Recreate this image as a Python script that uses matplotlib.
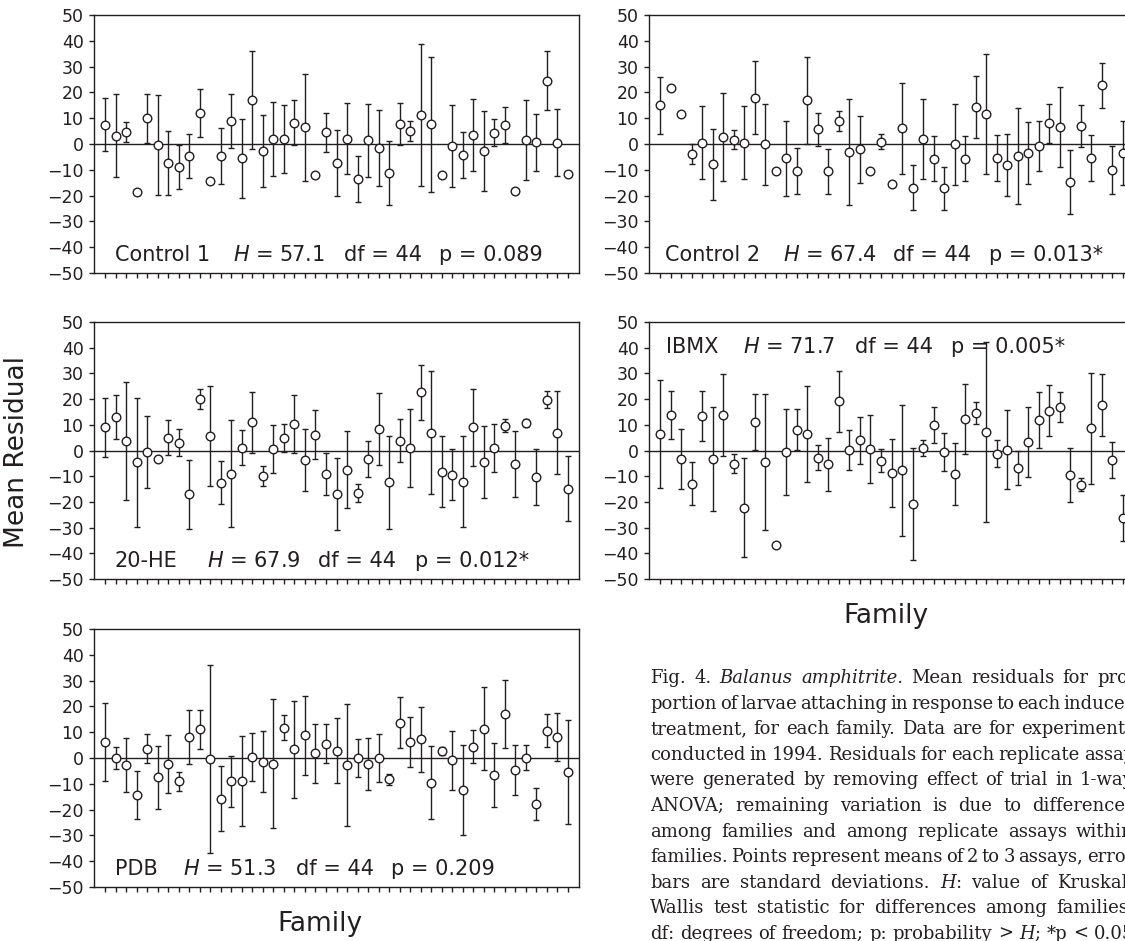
import matplotlib
matplotlib.use("Agg")
import matplotlib.pyplot as plt
from matplotlib.transforms import blended_transform_factory

# ---------------- data ----------------
families = list(range(1, 46))

control1_mean = [7.5, 3.2, 4.7, -18.6, 9.9, -0.5, -7.4, -8.9, -4.6, 12.1, -14.4, -4.6, 9.0, -5.6, 17.1,
                 -2.7, 1.9, 1.9, 8.3, 6.4, -12.1, 4.5, -7.3, 2.1, -13.4, 1.5, -1.5, -11.3, 7.8, 5.0,
                 11.2, 7.6, -12.1, -0.7, -4.2, 3.6, -2.8, 4.3, 7.4, -18.4, 1.4, 0.6, 24.6, 0.5, -11.8]
control1_sd = [10.2, 16.0, 4.0, 0, 9.5, 19.3, 12.3, 8.5, 8.6, 9.3, 0, 10.9, 10.4, 15.4, 19.1,
               14.0, 14.3, 13.3, 8.7, 20.9, 0, 7.7, 12.9, 13.9, 8.9, 14.1, 14.6, 12.4, 8.2, 4.0,
               27.6, 26.1, 0, 16.0, 8.9, 14.0, 15.6, 5.2, 6.9, 0, 15.5, 11.0, 11.3, 13.0, 0]

control2_mean = [15.0, 21.6, 11.6, -3.8, 0.5, -7.9, 2.7, 1.7, 0.5, 17.9, -0.1, -10.6, -5.6, -10.5, 16.9,
                 5.7, -10.5, 8.8, -3.1, -2.1, -10.5, 0.8, -15.6, 6.1, -16.9, 1.8, -5.7, -17.1, -0.1, -5.7,
                 14.4, 11.5, -5.4, -8.2, -4.7, -3.5, -0.6, 8.0, 6.6, -14.7, 6.9, -5.4, 22.8, -10.1, -3.4]
control2_sd = [11.0, 0, 0, 3.8, 14.1, 13.8, 17.0, 3.6, 14.1, 14.1, 15.6, 0, 14.5, 9.0, 16.8,
               6.4, 8.7, 3.8, 20.7, 12.9, 0, 2.9, 0, 17.6, 8.6, 15.5, 8.7, 8.3, 15.6, 8.7,
               11.9, 23.3, 8.9, 12.1, 18.7, 12.0, 9.7, 7.5, 15.6, 12.4, 8.2, 9.0, 8.7, 9.3, 12.4]

he20_mean = [9.0, 13.1, 3.7, -4.6, -0.5, -3.2, 5.0, 3.0, -17.1, 20.0, 5.6, -12.5, -9.1, 1.1, 10.9,
             -9.9, 0.5, 5.0, 10.3, -3.7, 6.1, -9.0, -16.9, -7.4, -16.4, -3.3, 8.2, -12.4, 3.8, 1.0,
             22.6, 6.9, -8.2, -9.4, -12.2, 9.0, -4.5, 1.0, 9.7, -5.2, 10.6, -10.5, 19.8, 6.9, -14.8]
he20_sd = [11.6, 8.5, 23.0, 25.2, 14.0, 1.0, 6.7, 5.2, 13.3, 4.0, 19.5, 8.5, 20.8, 6.8, 11.8,
           4.0, 9.3, 5.4, 11.2, 12.0, 9.6, 8.2, 13.9, 15.0, 3.5, 6.9, 14.0, 18.0, 8.3, 15.1,
           10.8, 23.9, 13.7, 9.9, 17.7, 15.1, 14.0, 9.4, 2.6, 12.7, 1.5, 10.9, 3.2, 16.1, 12.8]

ibmx_mean = [6.4, 13.8, -3.3, -12.9, 13.3, -3.3, 13.8, -5.2, -22.2, 11.1, -4.5, -36.8, -0.6, 8.1, 6.5,
             -2.8, -5.4, 19.1, 0.3, 3.9, 0.7, -3.9, -8.7, -7.7, -20.8, 1.0, 9.8, -0.6, -9.1, 12.4,
             14.6, 7.2, -1.2, 0.3, -6.7, 3.2, 11.8, 15.4, 16.8, -9.6, -13.3, 8.6, 17.8, -3.8, -26.3]
ibmx_sd = [21.0, 9.5, 11.8, 8.5, 9.7, 20.2, 16.1, 3.7, 19.2, 10.8, 26.5, 0, 16.6, 7.9, 18.6,
           4.9, 10.4, 11.9, 7.7, 9.0, 13.3, 4.4, 13.1, 25.4, 21.8, 3.2, 7.0, 7.4, 12.0, 13.6,
           4.3, 35.0, 5.4, 15.3, 6.6, 13.6, 10.8, 9.9, 5.8, 10.5, 2.6, 21.7, 12.0, 7.0, 9.0]

pdb_mean = [6.2, 0.0, -2.8, -14.4, 3.6, -7.4, -2.3, -9.1, 8.0, 11.1, -0.3, -15.7, -9.1, -8.9, 0.4,
            -1.4, -2.2, 11.8, 3.4, 8.8, 1.8, 5.6, 2.8, -2.8, 0.0, -2.3, 0.1, -8.3, 13.7, 6.1,
            7.3, -9.6, 2.7, -0.9, -12.3, 4.4, 11.4, -6.6, 17.0, -4.7, 0.1, -17.7, 10.5, 8.2, -5.4]
pdb_sd = [15.2, 4.3, 10.5, 9.4, 5.6, 12.2, 11.1, 3.6, 10.5, 7.5, 36.5, 12.7, 9.7, 17.5, 9.3,
          11.7, 24.9, 5.0, 18.8, 15.3, 11.4, 7.6, 12.6, 23.7, 7.5, 10.0, 9.3, 2.1, 9.8, 9.7,
          12.6, 14.1, 1.5, 11.5, 17.4, 6.5, 16.1, 12.4, 13.3, 9.7, 4.9, 6.2, 6.4, 9.4, 20.3]

treatments = ["Control 1", "Control 2", "20-HE", "IBMX", "PDB"]
h_values = ["57.1", "67.4", "67.9", "71.7", "51.3"]
df_values = ["44", "44", "44", "44", "44"]
p_values = ["0.089", "0.013*", "0.012*", "0.005*", "0.209"]

y_ticks = [-50, -40, -30, -20, -10, 0, 10, 20, 30, 40, 50]

caption_lines = [
    "Fig. 4. _Balanus amphitrite._ Mean residuals for pro-",
    "portion of larvae attaching in response to each inducer",
    "treatment, for each family. Data are for experiments",
    "conducted in 1994. Residuals for each replicate assay",
    "were generated by removing effect of trial in 1-way",
    "ANOVA; remaining variation is due to differences",
    "among families and among replicate assays within",
    "families. Points represent means of 2 to 3 assays, error",
    "bars are standard deviations. _H_: value of Kruskal-",
    "Wallis test statistic for differences among families.",
    "df: degrees of freedom; p: probability > _H_; *p < 0.05",
]

# ---------------- styling ----------------
plt.rcParams['font.family'] = ['DejaVu Sans']
plt.rcParams['mathtext.fontset'] = 'custom'
plt.rcParams['mathtext.it'] = 'DejaVu Sans:italic'
plt.rcParams['mathtext.rm'] = 'DejaVu Sans'

INK = '#231f20'
W, H = 1125, 941
fig = plt.figure(figsize=(W / 100, H / 100), dpi=100)
fig.patch.set_facecolor('white')


def px_axes(left, top, right, bottom):
    return fig.add_axes([left / W, 1 - bottom / H, (right - left) / W, (bottom - top) / H])


panel_data = [
    (control1_mean, control1_sd), (control2_mean, control2_sd), (he20_mean, he20_sd),
    (ibmx_mean, ibmx_sd), (pdb_mean, pdb_sd),
]
panel_boxes = [(94, 15, 579, 273), (649, 15, 1134, 273), (94, 322, 579, 579),
               (649, 322, 1134, 579), (94, 629, 579, 887)]
label_offsets = [[21, 139, 250, 345], [16, 134, 244, 340], [20, 113, 224, 321],
                 [17, 94, 206, 302], [21, 89, 202, 297]]
label_y = [-45.5, -45.5, -45.5, 37.8, -45.5]

for k in range(5):
    mean, sd = panel_data[k]
    left, top, right, bottom = panel_boxes[k]
    ax = px_axes(left, top, right, bottom)
    ax.set_xlim(-0.05, 46.05)
    ax.set_ylim(-50, 50)
    ax.axhline(0, color=INK, lw=1.0, zorder=1)
    ax.errorbar(families, mean, yerr=sd, fmt='none', ecolor=INK, elinewidth=1.0,
                capsize=2.3, capthick=1.0, zorder=2)
    ax.plot(families, mean, 'o', ms=6.2, mfc='white', mec=INK, mew=1.0, zorder=3,
            linestyle='none')
    ax.set_yticks(y_ticks)
    ax.set_xticks(families)
    ax.set_xticklabels([])
    ax.tick_params(axis='both', direction='out', length=3.5, width=1.0, colors=INK,
                   labelsize=12.5, labelcolor=INK, pad=4)
    for s in ax.spines.values():
        s.set_color(INK)
        s.set_linewidth(1.0)
    tr = blended_transform_factory(ax.transAxes, ax.transData)
    width = right - left
    parts = [treatments[k], "$H$ = " + h_values[k], "df = " + df_values[k], "p = " + p_values[k]]
    for off, txt in zip(label_offsets[k], parts):
        ax.text(off / width, label_y[k], txt, transform=tr, ha='left', va='baseline',
                fontsize=15, color=INK)

fig.text(17 / W, 1 - 452 / H, "Mean Residual", rotation=90, ha='center', va='center',
         fontsize=19, color=INK)
fig.text(886 / W, 1 - 616 / H, "Family", ha='center', va='center', fontsize=19, color=INK)
fig.text(320 / W, 1 - 924 / H, "Family", ha='center', va='center', fontsize=19, color=INK)

# ---------------- justified caption ----------------
def parse_words(line, state):
    words = []
    for raw in line.split(' '):
        segs, buf = [], ''
        for ch in raw:
            if ch == '_':
                if buf:
                    segs.append((buf, state[0]))
                    buf = ''
                state[0] = not state[0]
            else:
                buf += ch
        if buf:
            segs.append((buf, state[0]))
        words.append(segs)
    return words


renderer = fig.canvas.get_renderer()
CAP_L, CAP_R = 650, 1134
CAP_BASE0, CAP_STEP = 683, 25.6
state = [False]
for k, line in enumerate(caption_lines):
    words = parse_words(line, state)
    yb = 1 - (CAP_BASE0 + k * CAP_STEP) / H
    items, total = [], 0.0
    for segs in words:
        w_items, ww = [], 0.0
        for s, it in segs:
            t = fig.text(0, yb, s, fontsize=13, family='DejaVu Serif',
                         style='italic' if it else 'normal', ha='left', va='baseline',
                         color=INK)
            bw = t.get_window_extent(renderer).width
            w_items.append((t, bw))
            ww += bw
        items.append((w_items, ww))
        total += ww
    gap = (CAP_R - CAP_L - total) / max(len(items) - 1, 1)
    x = CAP_L
    for w_items, ww in items:
        for t, bw in w_items:
            t.set_x(x / W)
            x += bw
        x += gap

fig.savefig("out.png", dpi=100)
